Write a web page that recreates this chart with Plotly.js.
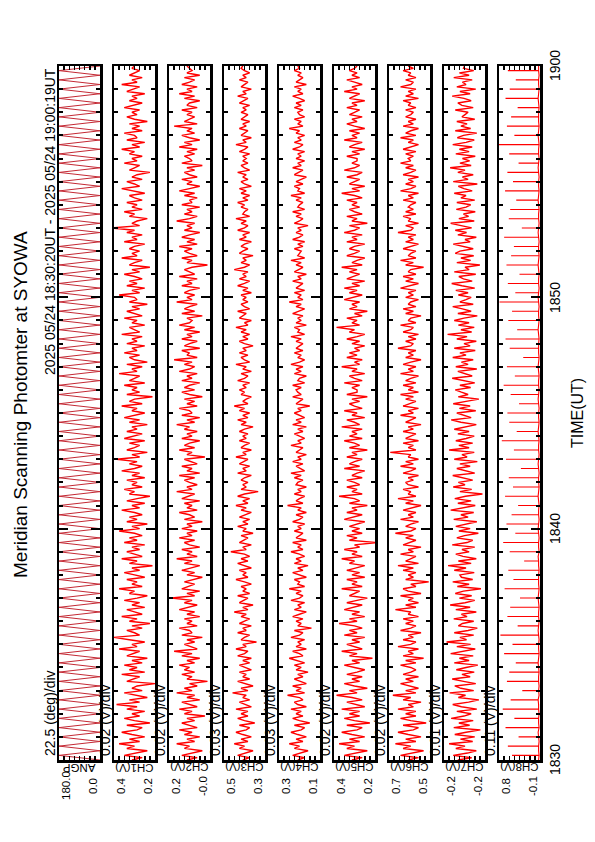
<!DOCTYPE html>
<html><head><meta charset="utf-8">
<script src="https://cdn.plot.ly/plotly-3.0.1.min.js"></script>
<style>
html,body{margin:0;padding:0;width:595px;height:842px;overflow:hidden;background:#fff;}
#wrap{position:absolute;left:0;top:0;width:842px;height:595px;transform-origin:0 0;transform:translateY(842px) rotate(-90deg);}
</style></head><body>
<div id="wrap"></div>
<script>
// scan-angle samples, minutes after 18:30 UT
const timeScan = [
0,0.2,0.4,0.6,0.8,1,1.2,1.4,1.6,1.8,2,2.2,2.4,2.6,2.8,3,3.2,3.4,3.6,3.8,
4,4.2,4.4,4.6,4.8,5,5.2,5.4,5.6,5.8,6,6.2,6.4,6.6,6.8,7,7.2,7.4,7.6,7.8,
8,8.2,8.4,8.6,8.8,9,9.2,9.4,9.6,9.8,10,10.2,10.4,10.6,10.8,11,11.2,11.4,11.6,11.8,
12,12.2,12.4,12.6,12.8,13,13.2,13.4,13.6,13.8,14,14.2,14.4,14.6,14.8,15,15.2,15.4,15.6,15.8,
16,16.2,16.4,16.6,16.8,17,17.2,17.4,17.6,17.8,18,18.2,18.4,18.6,18.8,19,19.2,19.4,19.6,19.8,
20,20.2,20.4,20.6,20.8,21,21.2,21.4,21.6,21.8,22,22.2,22.4,22.6,22.8,23,23.2,23.4,23.6,23.8,
24,24.2,24.4,24.6,24.8,25,25.2,25.4,25.6,25.8,26,26.2,26.4,26.6,26.8,27,27.2,27.4,27.6,27.8,
28,28.2,28.4,28.6,28.8,29,29.2,29.4,29.6,29.8,30];

// photometer channel samples, minutes after 18:30 UT
const timeCh = [
0,0.1,0.2,0.3,0.4,0.5,0.6,0.7,0.8,0.9,1,1.1,1.2,1.3,1.4,1.5,1.6,1.7,1.8,1.9,
2,2.1,2.2,2.3,2.4,2.5,2.6,2.7,2.8,2.9,3,3.1,3.2,3.3,3.4,3.5,3.6,3.7,3.8,3.9,
4,4.1,4.2,4.3,4.4,4.5,4.6,4.7,4.8,4.9,5,5.1,5.2,5.3,5.4,5.5,5.6,5.7,5.8,5.9,
6,6.1,6.2,6.3,6.4,6.5,6.6,6.7,6.8,6.9,7,7.1,7.2,7.3,7.4,7.5,7.6,7.7,7.8,7.9,
8,8.1,8.2,8.3,8.4,8.5,8.6,8.7,8.8,8.9,9,9.1,9.2,9.3,9.4,9.5,9.6,9.7,9.8,9.9,
10,10.1,10.2,10.3,10.4,10.5,10.6,10.7,10.8,10.9,11,11.1,11.2,11.3,11.4,11.5,11.6,11.7,11.8,11.9,
12,12.1,12.2,12.3,12.4,12.5,12.6,12.7,12.8,12.9,13,13.1,13.2,13.3,13.4,13.5,13.6,13.7,13.8,13.9,
14,14.1,14.2,14.3,14.4,14.5,14.6,14.7,14.8,14.9,15,15.1,15.2,15.3,15.4,15.5,15.6,15.7,15.8,15.9,
16,16.1,16.2,16.3,16.4,16.5,16.6,16.7,16.8,16.9,17,17.1,17.2,17.3,17.4,17.5,17.6,17.7,17.8,17.9,
18,18.1,18.2,18.3,18.4,18.5,18.6,18.7,18.8,18.9,19,19.1,19.2,19.3,19.4,19.5,19.6,19.7,19.8,19.9,
20,20.1,20.2,20.3,20.4,20.5,20.6,20.7,20.8,20.9,21,21.1,21.2,21.3,21.4,21.5,21.6,21.7,21.8,21.9,
22,22.1,22.2,22.3,22.4,22.5,22.6,22.7,22.8,22.9,23,23.1,23.2,23.3,23.4,23.5,23.6,23.7,23.8,23.9,
24,24.1,24.2,24.3,24.4,24.5,24.6,24.7,24.8,24.9,25,25.1,25.2,25.3,25.4,25.5,25.6,25.7,25.8,25.9,
26,26.1,26.2,26.3,26.4,26.5,26.6,26.7,26.8,26.9,27,27.1,27.2,27.3,27.4,27.5,27.6,27.7,27.8,27.9,
28,28.1,28.2,28.3,28.4,28.5,28.6,28.7,28.8,28.9,29,29.1,29.2,29.3,29.4,29.5,29.6,29.7,29.8,29.9,
30];

const angp = [
0,180,0,180,0,180,0,180,0,180, 0,180,0,180,0,180,0,180,0,180,
0,180,0,180,0,180,0,180,0,180, 0,180,0,180,0,180,0,180,0,180,
0,180,0,180,0,180,0,180,0,180, 0,180,0,180,0,180,0,180,0,180,
0,180,0,180,0,180,0,180,0,180, 0,180,0,180,0,180,0,180,0,180,
0,180,0,180,0,180,0,180,0,180, 0,180,0,180,0,180,0,180,0,180,
0,180,0,180,0,180,0,180,0,180, 0,180,0,180,0,180,0,180,0,180,
0,180,0,180,0,180,0,180,0,180, 0,180,0,180,0,180,0,180,0,180,
0,180,0,180,0,180,0,180,0,180,
0];

const ch1 = [
0.31,0.27,0.34,0.29,0.25,0.33,0.30,0.36,0.28,0.32,0.26,0.31,0.35,0.29,0.27,0.33,0.24,0.30,0.34,0.28,
0.31,0.26,0.33,0.29,0.37,0.28,0.32,0.25,0.30,0.34,0.27,0.31,0.29,0.22,0.33,0.30,0.28,0.35,0.26,0.32,
0.29,0.34,0.27,0.31,0.25,0.33,0.30,0.28,0.36,0.29,0.31,0.26,0.32,0.38,0.28,0.30,0.33,0.27,0.31,0.24,
0.32,0.29,0.35,0.27,0.30,0.33,0.26,0.31,0.28,0.34,0.29,0.25,0.32,0.30,0.36,0.27,0.31,0.29,0.33,0.26,
0.30,0.34,0.28,0.31,0.23,0.32,0.29,0.35,0.27,0.30,0.33,0.28,0.31,0.26,0.34,0.29,0.32,0.27,0.30,0.36,
0.28,0.31,0.25,0.33,0.29,0.32,0.27,0.30,0.35,0.28,0.31,0.26,0.33,0.29,0.24,0.32,0.30,0.34,0.27,0.31,
0.29,0.33,0.26,0.31,0.28,0.35,0.30,0.27,0.32,0.29,0.37,0.28,0.31,0.25,0.33,0.30,0.28,0.32,0.26,0.34,
0.30,0.27,0.33,0.29,0.31,0.25,0.32,0.28,0.34,0.30,0.26,0.31,0.29,0.35,0.27,0.32,0.30,0.23,0.33,0.28,
0.31,0.29,0.34,0.26,0.32,0.30,0.28,0.36,0.29,0.31,0.27,0.33,0.25,0.30,0.32,0.28,0.34,0.29,0.31,0.26,
0.33,0.29,0.31,0.27,0.35,0.28,0.30,0.32,0.26,0.31,0.29,0.34,0.27,0.30,0.33,0.28,0.31,0.25,0.32,0.29,
0.30,0.36,0.28,0.31,0.26,0.33,0.29,0.32,0.27,0.30,0.34,0.28,0.31,0.24,0.32,0.30,0.27,0.35,0.29,0.31,
0.28,0.32,0.30,0.26,0.34,0.29,0.31,0.27,0.33,0.30,0.39,0.28,0.31,0.29,0.25,0.32,0.30,0.34,0.27,0.31,
0.29,0.33,0.27,0.30,0.32,0.26,0.31,0.35,0.28,0.30,0.33,0.27,0.31,0.29,0.24,0.32,0.30,0.28,0.34,0.29,
0.31,0.27,0.32,0.30,0.35,0.28,0.31,0.26,0.33,0.29,0.30,0.34,0.27,0.31,0.28,0.32,0.25,0.30,0.33,0.29,
0.31,0.28,0.34,0.30,0.27,0.32,0.29,0.31,0.26,0.33,0.30,0.28,0.35,0.29,0.31,0.27,0.32,0.30,0.28,0.31,
0.30];

const ch2 = [
0.11,0.07,0.13,0.09,0.05,0.12,0.10,0.15,0.08,0.11,0.06,0.12,0.09,0.14,0.07,0.10,0.13,0.08,0.11,0.04,
0.12,0.09,0.14,0.07,0.10,0.13,0.06,0.11,0.08,0.15,0.09,0.12,0.07,0.10,0.03,0.11,0.09,0.13,0.08,0.12,
0.10,0.14,0.08,0.11,0.06,0.13,0.09,0.16,0.07,0.10,0.12,0.08,0.11,0.05,0.13,0.09,0.10,0.14,0.07,0.11,
0.09,0.12,0.06,0.11,0.08,0.14,0.10,0.07,0.12,0.09,0.17,0.08,0.11,0.06,0.13,0.10,0.08,0.12,0.09,0.05,
0.11,0.08,0.13,0.10,0.06,0.12,0.09,0.15,0.07,0.11,0.09,0.13,0.06,0.10,0.12,0.08,0.14,0.09,0.11,0.07,
0.13,0.09,0.11,0.05,0.12,0.08,0.10,0.14,0.07,0.11,0.09,0.12,0.06,0.13,0.10,0.08,0.15,0.09,0.11,0.07,
0.10,0.12,0.08,0.14,0.06,0.11,0.09,0.13,0.07,0.10,0.12,0.04,0.11,0.09,0.14,0.08,0.12,0.10,0.06,0.13,
0.09,0.11,0.07,0.12,0.10,0.15,0.08,0.11,0.06,0.13,0.09,0.10,0.14,0.07,0.11,0.08,0.12,0.05,0.10,0.13,
0.08,0.12,0.10,0.06,0.13,0.09,0.11,0.07,0.14,0.10,0.08,0.12,0.09,0.16,0.07,0.11,0.10,0.13,0.06,0.12,
0.10,0.07,0.13,0.09,0.11,0.06,0.12,0.08,0.14,0.10,0.09,0.11,0.05,0.13,0.08,0.12,0.10,0.07,0.15,0.09,
0.11,0.08,0.12,0.10,0.06,0.13,0.09,0.11,0.07,0.14,0.08,0.10,0.12,0.09,0.03,0.11,0.09,0.13,0.07,0.10,
0.12,0.09,0.14,0.07,0.11,0.08,0.13,0.10,0.06,0.12,0.09,0.11,0.08,0.15,0.10,0.07,0.12,0.09,0.11,0.06,
0.13,0.09,0.10,0.07,0.12,0.08,0.14,0.10,0.06,0.11,0.09,0.13,0.07,0.10,0.12,0.08,0.11,0.05,0.13,0.09,
0.10,0.12,0.08,0.11,0.07,0.14,0.09,0.12,0.06,0.10,0.13,0.08,0.11,0.09,0.16,0.07,0.12,0.10,0.08,0.11,
0.09,0.13,0.07,0.11,0.10,0.06,0.12,0.08,0.14,0.09,0.11,0.07,0.13,0.10,0.08,0.12,0.06,0.11,0.09,0.10,
0.11];

const ch3 = [
0.41,0.37,0.44,0.39,0.35,0.43,0.40,0.46,0.38,0.42,0.36,0.41,0.45,0.39,0.37,0.43,0.34,0.40,0.44,0.38,
0.42,0.38,0.45,0.36,0.40,0.43,0.37,0.41,0.39,0.47,0.38,0.42,0.35,0.40,0.44,0.37,0.41,0.39,0.43,0.36,
0.39,0.43,0.37,0.41,0.36,0.44,0.40,0.38,0.45,0.39,0.41,0.33,0.42,0.40,0.37,0.44,0.39,0.41,0.36,0.43,
0.40,0.37,0.42,0.39,0.46,0.38,0.41,0.35,0.43,0.40,0.38,0.44,0.37,0.41,0.39,0.42,0.36,0.40,0.45,0.38,
0.41,0.39,0.43,0.36,0.40,0.44,0.38,0.42,0.37,0.40,0.48,0.39,0.41,0.36,0.43,0.40,0.38,0.42,0.35,0.41,
0.39,0.44,0.38,0.41,0.37,0.43,0.40,0.36,0.42,0.39,0.45,0.38,0.41,0.37,0.44,0.40,0.32,0.42,0.39,0.41,
0.38,0.42,0.40,0.36,0.44,0.39,0.41,0.37,0.43,0.40,0.38,0.45,0.39,0.41,0.36,0.42,0.40,0.37,0.43,0.39,
0.41,0.38,0.43,0.40,0.35,0.42,0.39,0.44,0.38,0.41,0.37,0.43,0.40,0.46,0.38,0.41,0.39,0.36,0.42,0.40,
0.43,0.39,0.41,0.37,0.44,0.40,0.38,0.42,0.36,0.41,0.39,0.45,0.37,0.40,0.42,0.38,0.43,0.39,0.41,0.35,
0.40,0.43,0.38,0.41,0.37,0.42,0.39,0.45,0.38,0.40,0.36,0.43,0.41,0.39,0.44,0.37,0.40,0.42,0.38,0.41,
0.39,0.42,0.36,0.41,0.38,0.44,0.40,0.37,0.43,0.39,0.41,0.38,0.46,0.40,0.37,0.42,0.39,0.41,0.35,0.43,
0.41,0.38,0.42,0.40,0.36,0.43,0.39,0.41,0.37,0.44,0.40,0.38,0.42,0.39,0.45,0.37,0.41,0.40,0.38,0.42,
0.40,0.44,0.38,0.41,0.37,0.42,0.39,0.43,0.36,0.40,0.42,0.38,0.41,0.39,0.44,0.37,0.40,0.42,0.38,0.41,
0.39,0.41,0.37,0.43,0.40,0.38,0.45,0.39,0.41,0.36,0.42,0.40,0.38,0.43,0.39,0.41,0.37,0.42,0.40,0.38,
0.42,0.39,0.41,0.37,0.43,0.40,0.38,0.44,0.39,0.41,0.36,0.42,0.40,0.38,0.43,0.39,0.41,0.37,0.40,0.42,
0.41];

const ch4 = [
0.21,0.17,0.24,0.19,0.15,0.23,0.20,0.26,0.18,0.22,0.16,0.21,0.25,0.19,0.17,0.23,0.14,0.20,0.24,0.18,
0.22,0.19,0.25,0.16,0.21,0.23,0.18,0.20,0.27,0.17,0.22,0.19,0.24,0.16,0.20,0.23,0.18,0.21,0.15,0.22,
0.19,0.23,0.17,0.21,0.26,0.18,0.20,0.24,0.16,0.22,0.19,0.21,0.17,0.25,0.20,0.18,0.23,0.13,0.21,0.19,
0.22,0.18,0.24,0.20,0.16,0.23,0.19,0.21,0.17,0.25,0.20,0.18,0.22,0.19,0.26,0.17,0.21,0.20,0.23,0.16,
0.20,0.24,0.18,0.21,0.15,0.23,0.19,0.22,0.17,0.20,0.25,0.18,0.21,0.19,0.24,0.16,0.22,0.20,0.18,0.23,
0.19,0.21,0.17,0.24,0.20,0.18,0.22,0.16,0.21,0.19,0.27,0.18,0.22,0.20,0.17,0.23,0.19,0.21,0.16,0.22,
0.21,0.18,0.23,0.19,0.25,0.17,0.20,0.22,0.18,0.24,0.19,0.21,0.16,0.22,0.20,0.18,0.25,0.19,0.21,0.17,
0.20,0.23,0.18,0.21,0.16,0.24,0.19,0.22,0.17,0.20,0.23,0.19,0.21,0.14,0.22,0.20,0.18,0.24,0.19,0.21,
0.22,0.19,0.24,0.17,0.21,0.20,0.16,0.23,0.19,0.22,0.18,0.25,0.20,0.17,0.21,0.19,0.23,0.18,0.22,0.20,
0.18,0.22,0.19,0.25,0.17,0.21,0.20,0.23,0.16,0.22,0.19,0.21,0.18,0.24,0.20,0.17,0.22,0.19,0.26,0.18,
0.21,0.19,0.23,0.17,0.22,0.20,0.18,0.24,0.19,0.21,0.16,0.23,0.20,0.18,0.22,0.19,0.25,0.17,0.21,0.20,
0.19,0.23,0.18,0.21,0.17,0.24,0.20,0.18,0.22,0.19,0.21,0.15,0.23,0.20,0.18,0.22,0.19,0.24,0.17,0.21,
0.20,0.18,0.22,0.19,0.25,0.17,0.21,0.20,0.23,0.18,0.22,0.19,0.16,0.23,0.20,0.18,0.24,0.19,0.21,0.17,
0.22,0.19,0.21,0.17,0.24,0.20,0.18,0.23,0.19,0.21,0.17,0.22,0.20,0.26,0.18,0.21,0.19,0.23,0.17,0.20,
0.21,0.18,0.23,0.19,0.22,0.17,0.20,0.24,0.18,0.21,0.19,0.23,0.16,0.22,0.20,0.18,0.21,0.19,0.23,0.20,
0.21];

const ch5 = [
0.32,0.28,0.35,0.30,0.26,0.34,0.31,0.37,0.29,0.33,0.27,0.32,0.36,0.30,0.28,0.34,0.25,0.31,0.35,0.29,
0.33,0.29,0.36,0.27,0.31,0.34,0.28,0.32,0.38,0.30,0.33,0.26,0.31,0.35,0.29,0.32,0.28,0.34,0.30,0.27,
0.31,0.35,0.29,0.32,0.24,0.33,0.30,0.36,0.28,0.31,0.34,0.29,0.32,0.27,0.35,0.30,0.33,0.28,0.31,0.37,
0.30,0.33,0.27,0.32,0.29,0.35,0.31,0.28,0.34,0.30,0.26,0.33,0.31,0.29,0.36,0.28,0.32,0.30,0.34,0.27,
0.32,0.29,0.34,0.30,0.27,0.33,0.31,0.36,0.28,0.32,0.30,0.35,0.29,0.31,0.22,0.33,0.30,0.34,0.28,0.32,
0.29,0.33,0.30,0.27,0.35,0.31,0.28,0.34,0.30,0.32,0.26,0.33,0.29,0.31,0.37,0.28,0.32,0.30,0.34,0.29,
0.31,0.34,0.28,0.32,0.30,0.27,0.35,0.29,0.33,0.31,0.28,0.34,0.30,0.32,0.26,0.33,0.29,0.31,0.35,0.28,
0.33,0.30,0.32,0.28,0.36,0.29,0.31,0.34,0.27,0.32,0.30,0.35,0.28,0.31,0.33,0.29,0.32,0.26,0.34,0.30,
0.30,0.32,0.29,0.35,0.28,0.31,0.33,0.27,0.32,0.30,0.36,0.29,0.31,0.28,0.34,0.30,0.33,0.29,0.31,0.27,
0.32,0.29,0.34,0.30,0.27,0.33,0.31,0.38,0.29,0.32,0.30,0.34,0.28,0.31,0.26,0.33,0.30,0.32,0.29,0.35,
0.31,0.28,0.33,0.30,0.35,0.29,0.32,0.27,0.34,0.31,0.29,0.33,0.30,0.36,0.28,0.32,0.30,0.27,0.34,0.31,
0.29,0.33,0.31,0.27,0.34,0.30,0.32,0.28,0.35,0.31,0.29,0.33,0.26,0.32,0.30,0.34,0.28,0.31,0.33,0.29,
0.32,0.30,0.34,0.28,0.31,0.36,0.29,0.32,0.27,0.33,0.31,0.29,0.34,0.30,0.28,0.35,0.31,0.29,0.32,0.30,
0.30,0.34,0.29,0.32,0.27,0.33,0.31,0.28,0.35,0.30,0.32,0.29,0.33,0.27,0.31,0.34,0.30,0.32,0.28,0.33,
0.31,0.29,0.34,0.30,0.32,0.27,0.33,0.31,0.29,0.35,0.30,0.32,0.28,0.31,0.34,0.29,0.32,0.30,0.33,0.31,
0.30];

const ch6 = [
0.61,0.57,0.64,0.59,0.55,0.63,0.60,0.66,0.58,0.62,0.56,0.61,0.65,0.59,0.57,0.63,0.54,0.60,0.64,0.58,
0.62,0.58,0.65,0.59,0.61,0.56,0.63,0.60,0.67,0.58,0.62,0.57,0.61,0.64,0.59,0.62,0.57,0.63,0.60,0.58,
0.60,0.64,0.58,0.62,0.55,0.63,0.59,0.61,0.57,0.65,0.60,0.58,0.63,0.59,0.61,0.56,0.64,0.60,0.58,0.62,
0.59,0.63,0.57,0.61,0.60,0.66,0.58,0.62,0.57,0.61,0.59,0.64,0.56,0.61,0.63,0.58,0.60,0.53,0.62,0.59,
0.61,0.58,0.63,0.59,0.65,0.57,0.62,0.60,0.58,0.64,0.59,0.61,0.56,0.63,0.60,0.58,0.62,0.59,0.66,0.60,
0.58,0.62,0.60,0.57,0.64,0.59,0.61,0.58,0.63,0.60,0.56,0.62,0.59,0.65,0.58,0.61,0.60,0.63,0.57,0.61,
0.62,0.59,0.61,0.57,0.63,0.60,0.58,0.64,0.59,0.62,0.57,0.61,0.60,0.68,0.58,0.61,0.59,0.63,0.57,0.62,
0.60,0.58,0.63,0.59,0.61,0.56,0.62,0.60,0.58,0.64,0.59,0.61,0.57,0.63,0.60,0.58,0.62,0.59,0.64,0.57,
0.61,0.59,0.63,0.58,0.62,0.60,0.57,0.64,0.59,0.61,0.58,0.63,0.60,0.56,0.62,0.59,0.61,0.58,0.65,0.60,
0.59,0.62,0.58,0.61,0.57,0.63,0.60,0.59,0.64,0.58,0.61,0.60,0.56,0.62,0.59,0.63,0.58,0.61,0.60,0.57,
0.62,0.59,0.61,0.58,0.64,0.60,0.57,0.62,0.59,0.63,0.58,0.61,0.60,0.55,0.62,0.59,0.64,0.58,0.61,0.60,
0.58,0.63,0.60,0.57,0.62,0.59,0.61,0.58,0.65,0.60,0.59,0.62,0.57,0.61,0.60,0.63,0.58,0.62,0.59,0.61,
0.60,0.58,0.63,0.59,0.61,0.57,0.64,0.60,0.58,0.62,0.59,0.61,0.57,0.63,0.60,0.58,0.62,0.59,0.64,0.60,
0.61,0.59,0.62,0.58,0.63,0.60,0.57,0.61,0.59,0.64,0.58,0.62,0.60,0.57,0.63,0.59,0.61,0.58,0.62,0.60,
0.59,0.62,0.58,0.61,0.60,0.63,0.57,0.62,0.59,0.61,0.58,0.64,0.60,0.59,0.62,0.58,0.61,0.60,0.63,0.59,
0.61];

const ch7 = [
-0.185,-0.212,-0.176,-0.204,-0.221,-0.181,-0.199,-0.168,-0.214,-0.190,-0.218,-0.179,-0.201,-0.229,-0.177,-0.208,-0.187,-0.215,-0.172,-0.197,
-0.211,-0.183,-0.222,-0.192,-0.175,-0.206,-0.226,-0.186,-0.200,-0.169,-0.216,-0.191,-0.179,-0.220,-0.196,-0.174,-0.209,-0.193,-0.217,-0.182,
-0.201,-0.224,-0.178,-0.207,-0.188,-0.215,-0.171,-0.195,-0.219,-0.183,-0.210,-0.163,-0.202,-0.189,-0.216,-0.178,-0.205,-0.223,-0.186,-0.194,
-0.216,-0.177,-0.203,-0.192,-0.221,-0.181,-0.209,-0.170,-0.199,-0.218,-0.188,-0.212,-0.180,-0.196,-0.230,-0.184,-0.207,-0.175,-0.214,-0.192,
-0.189,-0.217,-0.178,-0.201,-0.166,-0.211,-0.186,-0.221,-0.195,-0.181,-0.207,-0.193,-0.218,-0.174,-0.203,-0.214,-0.183,-0.198,-0.225,-0.187,
-0.209,-0.181,-0.199,-0.222,-0.177,-0.205,-0.191,-0.216,-0.171,-0.194,-0.219,-0.185,-0.211,-0.179,-0.200,-0.233,-0.189,-0.212,-0.176,-0.199,
-0.186,-0.214,-0.192,-0.175,-0.218,-0.197,-0.183,-0.209,-0.189,-0.223,-0.178,-0.203,-0.193,-0.217,-0.168,-0.207,-0.187,-0.214,-0.181,-0.201,
-0.217,-0.185,-0.207,-0.178,-0.197,-0.221,-0.191,-0.172,-0.211,-0.195,-0.183,-0.220,-0.188,-0.209,-0.176,-0.201,-0.226,-0.186,-0.205,-0.192,
-0.180,-0.210,-0.189,-0.218,-0.194,-0.174,-0.213,-0.199,-0.185,-0.222,-0.181,-0.205,-0.192,-0.215,-0.175,-0.201,-0.189,-0.219,-0.178,-0.209,
-0.197,-0.221,-0.183,-0.203,-0.165,-0.212,-0.191,-0.217,-0.186,-0.207,-0.178,-0.197,-0.223,-0.185,-0.211,-0.194,-0.175,-0.215,-0.189,-0.201,
-0.211,-0.186,-0.205,-0.181,-0.218,-0.193,-0.173,-0.213,-0.196,-0.187,-0.220,-0.178,-0.207,-0.199,-0.228,-0.183,-0.210,-0.191,-0.216,-0.180,
-0.189,-0.215,-0.194,-0.176,-0.209,-0.199,-0.221,-0.185,-0.202,-0.180,-0.212,-0.192,-0.171,-0.217,-0.187,-0.206,-0.196,-0.219,-0.182,-0.201,
-0.210,-0.183,-0.218,-0.191,-0.201,-0.178,-0.213,-0.197,-0.186,-0.223,-0.176,-0.205,-0.194,-0.215,-0.185,-0.199,-0.170,-0.211,-0.189,-0.208,
-0.194,-0.219,-0.181,-0.207,-0.188,-0.213,-0.175,-0.201,-0.217,-0.184,-0.196,-0.222,-0.180,-0.210,-0.191,-0.203,-0.183,-0.218,-0.193,-0.199,
-0.205,-0.180,-0.215,-0.193,-0.185,-0.211,-0.197,-0.174,-0.209,-0.189,-0.220,-0.183,-0.201,-0.194,-0.213,-0.177,-0.207,-0.188,-0.216,-0.196,
-0.198];

const ch8Base = [
-0.05,-0.06,-0.05,-0.05,-0.06,-0.05,-0.04,-0.06,-0.05,-0.05,-0.06,-0.05,-0.05,-0.04,-0.06,-0.05,-0.06,-0.05,-0.05,-0.06,
-0.05,-0.04,-0.05,-0.06,-0.05,-0.05,-0.06,-0.05,-0.04,-0.05,-0.06,-0.05,-0.05,-0.06,-0.05,-0.04,-0.05,-0.06,-0.05,-0.05,
-0.05,-0.06,-0.05,-0.05,-0.04,-0.06,-0.05,-0.05,-0.06,-0.05,-0.04,-0.05,-0.06,-0.05,-0.05,-0.06,-0.05,-0.04,-0.05,-0.06,
-0.05,-0.05,-0.06,-0.05,-0.04,-0.05,-0.06,-0.05,-0.05,-0.06,-0.05,-0.04,-0.05,-0.06,-0.05,-0.05,-0.06,-0.05,-0.04,-0.05,
-0.06,-0.05,-0.05,-0.06,-0.05,-0.04,-0.05,-0.06,-0.05,-0.05,-0.05,-0.06,-0.05,-0.04,-0.05,-0.06,-0.05,-0.05,-0.06,-0.05,
-0.04,-0.05,-0.06,-0.05,-0.05,-0.06,-0.05,-0.04,-0.05,-0.06,-0.05,-0.05,-0.06,-0.05,-0.04,-0.05,-0.06,-0.05,-0.05,-0.06,
-0.05,-0.04,-0.05,-0.06,-0.05,-0.05,-0.06,-0.05,-0.04,-0.05,-0.06,-0.05,-0.05,-0.06,-0.05,-0.04,-0.05,-0.06,-0.05,-0.05,
-0.05,-0.06,-0.05,-0.04,-0.05,-0.06,-0.05,-0.05,-0.06,-0.05,
-0.05];

const ch8Peak = [
null,0.52,null,0.61,null,0.38,null,0.66,null,0.47,null,0.72,null,0.55,null,0.30,null,0.63,null,0.58,
null,0.44,null,0.69,null,0.51,null,0.77,null,0.40,null,0.62,null,0.56,null,0.35,null,0.68,null,0.49,
null,0.60,null,0.26,null,0.57,null,0.71,null,0.45,null,0.64,null,0.53,null,0.39,null,0.67,null,0.50,
null,0.59,null,0.33,null,0.65,null,0.48,null,0.74,null,0.42,null,0.58,null,0.62,null,0.37,null,0.55,
null,0.70,null,0.46,null,0.63,null,0.28,null,0.57,null,0.66,null,0.41,null,0.60,null,0.52,null,0.79,
null,0.45,null,0.61,null,0.36,null,0.64,null,0.54,null,0.48,null,0.69,null,0.31,null,0.59,null,0.56,
null,0.43,null,0.67,null,0.50,null,0.62,null,0.38,null,0.58,null,0.80,null,0.47,null,0.63,null,0.54,
null,0.40,null,0.66,null,0.57,null,0.44,null,0.61,
null];

const panelNames = ["ANGP","CH1(V)","CH2(V)","CH3(V)","CH4(V)","CH5(V)","CH6(V)","CH7(V)","CH8(V)"];
const divLabels = ["22.5 (deg)/div","0.02 (V)/div","0.02 (V)/div","0.03 (V)/div","0.03 (V)/div","0.02 (V)/div","0.02 (V)/div","0.01 (V)/div","0.11 (V)/div"];
const topLabels = ["180.0","0.4","0.2","0.5","0.3","0.4","0.7","-0.2","0.8"];
const bottomLabels = ["0.0","0.2","-0.0","0.3","0.1","0.2","0.5","-0.2","-0.1"];
// each panel spans 8 divisions
const yRanges = [[0,180],[0.22,0.38],[0.02,0.18],[0.28,0.52],[0.08,0.32],[0.23,0.39],[0.525,0.685],[-0.238,-0.158],[-0.08,0.80]];
const yDivs = [22.5,0.02,0.02,0.03,0.03,0.02,0.02,0.01,0.11];
const timeTickVals = [0,10,20,30];
const timeTickText = ["1830","1840","1850","1900"];
const titleText = "Meridian Scanning Photomter at SYOWA";
const subTitleText = "2025 05/24 18:30:20UT - 2025 05/24 19:00:19UT";
const xTitleText = "TIME(UT)";

// ---- layout (landscape frame, rotated onto the portrait page) ----
const W = 842, H = 595;
const xL = 82, xR = 776, top0 = 59, pitch = 55, ph = 41;
const FONT = '"Liberation Sans", Arial, Helvetica, sans-serif';

const ch8x = [], ch8y = [];
for (let i=0;i<timeScan.length;i++){
  ch8x.push(timeScan[i]); ch8y.push(ch8Base[i]);
  if (ch8Peak[i]!==null){ ch8x.push(timeScan[i],timeScan[i]); ch8y.push(ch8Peak[i],ch8Base[i]); }
}

const panelData = [
  {x: timeScan, y: angp},
  {x: timeCh, y: ch1}, {x: timeCh, y: ch2}, {x: timeCh, y: ch3}, {x: timeCh, y: ch4},
  {x: timeCh, y: ch5}, {x: timeCh, y: ch6}, {x: timeCh, y: ch7},
  {x: ch8x, y: ch8y}
];

const traces = [];
const layout = {
  width: W, height: H, margin:{l:0,r:0,t:0,b:0},
  paper_bgcolor:'#fff', plot_bgcolor:'#fff', showlegend:false,
  font:{family:FONT, color:'#000'},
  annotations:[]
};

for (let k=0;k<9;k++){
  const sfx = k===0 ? '' : String(k+1);
  const top = top0 + pitch*k, bot = top + ph;
  traces.push({x: panelData[k].x, y: panelData[k].y, type:'scatter', mode:'lines',
    xaxis:'x'+sfx, yaxis:'y'+sfx, hoverinfo:'skip', cliponaxis:true,
    line:{color: k===0 ? '#c42a35' : '#ff0000', width: k===0 ? 1 : (k===8 ? 1.1 : 1.4)}});
  const xa = {
    domain:[xL/W, xR/W], range:[0,30], anchor:'y'+sfx,
    showline:true, linecolor:'#000', linewidth:2.5, mirror:'allticks',
    ticks:'inside', ticklen:9, tickwidth:2, tickcolor:'#000',
    tickmode:'array', tickvals: timeTickVals, ticktext: timeTickText,
    showticklabels:false,
    minor:{dtick:1, tick0:0, ticks:'inside', ticklen:4, tickwidth:2, tickcolor:'#000', showgrid:false},
    showgrid:false, zeroline:false, fixedrange:true
  };
  if (k>0) xa.matches = 'x';
  layout['xaxis'+sfx] = xa;
  layout['yaxis'+sfx] = {
    domain:[1-bot/H, 1-top/H], range: yRanges[k], anchor:'x'+sfx,
    showline:true, linecolor:'#000', linewidth:2.5, mirror:'allticks',
    ticks:'inside', tickmode:'linear', tick0: yRanges[k][0], dtick: yDivs[k],
    ticklen:4, tickwidth:1.5, tickcolor:'#000',
    showticklabels:false, showgrid:false, zeroline:false, fixedrange:true
  };
  layout.annotations.push({xref:'paper', yref:'paper', x:85/W, y:1-top/H, xanchor:'left', yanchor:'bottom',
    text: divLabels[k], showarrow:false, font:{size:14, family:FONT}, borderpad:0});
  layout.annotations.push({xref:'paper', yref:'paper', x:56/W, y:1-top/H, xanchor:'center', yanchor:'top',
    text: topLabels[k], showarrow:false, font:{size:11.5, family:FONT}, borderpad:0});
  layout.annotations.push({xref:'paper', yref:'paper', x:56/W, y:1-bot/H, xanchor:'center', yanchor:'bottom',
    text: bottomLabels[k], showarrow:false, font:{size:11.5, family:FONT}, borderpad:0});
  layout.annotations.push({xref:'paper', yref:'paper', x:75/W, y:1-(top+ph/2)/H, xanchor:'center', yanchor:'middle',
    text: panelNames[k], textangle:-90, showarrow:false, font:{size:11.5, family:FONT}, borderpad:0});
}
// time tick labels, placed on the bottom panel's time scale
timeTickVals.forEach((v,i)=>{
  layout.annotations.push({xref:'x9', yref:'paper', x:v, y:1-546/H, xanchor:'center', yanchor:'top',
    text: timeTickText[i], showarrow:false, font:{size:14, family:FONT}, borderpad:0});
});
layout.annotations.push({xref:'paper', yref:'paper', x:(xL+xR)/2/W, y:1-577/H, xanchor:'center', yanchor:'middle',
  text: xTitleText, showarrow:false, font:{size:16, family:FONT}, borderpad:0});
layout.annotations.push({xref:'paper', yref:'paper', x:438/W, y:1-21/H, xanchor:'center', yanchor:'middle',
  text: titleText, showarrow:false, font:{size:19, family:FONT}});
layout.annotations.push({xref:'paper', yref:'paper', x:775/W, y:1-59/H, xanchor:'right', yanchor:'bottom',
  text: subTitleText, showarrow:false, font:{size:14, family:FONT}, borderpad:0});

Plotly.newPlot('wrap', traces, layout, {staticPlot:true, displayModeBar:false});
</script>
</body></html>
